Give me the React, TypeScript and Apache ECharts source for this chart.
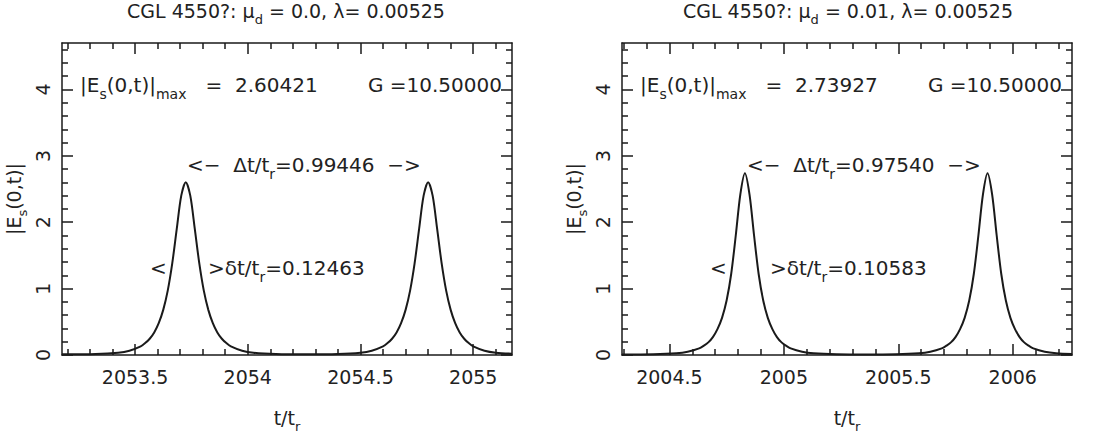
import React, { useEffect, useRef } from 'react';
import * as echarts from 'echarts';

// ---------- data ----------
const leftT = [
  2053.176, 2053.325, 2053.425, 2053.475, 2053.525, 2053.545, 2053.565, 2053.585, 2053.605,
  2053.625, 2053.645, 2053.665, 2053.685, 2053.705, 2053.725, 2053.745, 2053.765, 2053.785,
  2053.805, 2053.825, 2053.845, 2053.865, 2053.885, 2053.905, 2053.925, 2053.975, 2054.025,
  2054.125, 2054.26, 2054.40, 2054.50, 2054.55, 2054.60, 2054.62, 2054.64, 2054.66, 2054.68,
  2054.70, 2054.72, 2054.74, 2054.76, 2054.78, 2054.80, 2054.82, 2054.84, 2054.86, 2054.88,
  2054.90, 2054.92, 2054.94, 2054.96, 2054.98, 2055.00, 2055.05, 2055.10, 2055.172,
];
const leftE = [
  0.01, 0.015, 0.035, 0.065, 0.13, 0.18, 0.245, 0.34, 0.48,
  0.68, 0.97, 1.38, 1.90, 2.40, 2.604, 2.40, 1.90, 1.38,
  0.97, 0.68, 0.48, 0.34, 0.245, 0.18, 0.13, 0.065, 0.035,
  0.015, 0.01, 0.015, 0.035, 0.065, 0.13, 0.18, 0.245, 0.34, 0.48,
  0.68, 0.97, 1.38, 1.90, 2.40, 2.604, 2.40, 1.90, 1.38, 0.97,
  0.68, 0.48, 0.34, 0.245, 0.18, 0.13, 0.065, 0.035, 0.02,
];

const rightT = [
  2004.293, 2004.43, 2004.53, 2004.58, 2004.63, 2004.65, 2004.67, 2004.69, 2004.71,
  2004.73, 2004.75, 2004.77, 2004.79, 2004.81, 2004.83, 2004.85, 2004.87, 2004.89,
  2004.91, 2004.93, 2004.95, 2004.97, 2004.99, 2005.01, 2005.03, 2005.08, 2005.13,
  2005.23, 2005.36, 2005.49, 2005.59, 2005.64, 2005.69, 2005.71, 2005.73, 2005.75, 2005.77,
  2005.79, 2005.81, 2005.83, 2005.85, 2005.87, 2005.89, 2005.91, 2005.93, 2005.95, 2005.97,
  2005.99, 2006.01, 2006.03, 2006.05, 2006.07, 2006.09, 2006.14, 2006.19, 2006.259,
];
const rightE = [
  0.008, 0.012, 0.027, 0.05, 0.10, 0.14, 0.19, 0.27, 0.39,
  0.56, 0.82, 1.22, 1.80, 2.42, 2.739, 2.42, 1.80, 1.22,
  0.82, 0.56, 0.39, 0.27, 0.19, 0.14, 0.10, 0.05, 0.027,
  0.012, 0.008, 0.012, 0.027, 0.05, 0.10, 0.14, 0.19, 0.27, 0.39,
  0.56, 0.82, 1.22, 1.80, 2.42, 2.739, 2.42, 1.80, 1.22, 0.82,
  0.56, 0.39, 0.27, 0.19, 0.14, 0.10, 0.05, 0.027, 0.015,
];

const leftMajorX = [2053.5, 2054, 2054.5, 2055];
const leftMinorX = [
  2053.2, 2053.3, 2053.4, 2053.6, 2053.7, 2053.8, 2053.9, 2054.1, 2054.2, 2054.3, 2054.4,
  2054.6, 2054.7, 2054.8, 2054.9, 2055.1,
];
const rightMajorX = [2004.5, 2005, 2005.5, 2006];
const rightMinorX = [
  2004.3, 2004.4, 2004.6, 2004.7, 2004.8, 2004.9, 2005.1, 2005.2, 2005.3, 2005.4,
  2005.6, 2005.7, 2005.8, 2005.9, 2006.1, 2006.2,
];
const yMajor = [0, 1, 2, 3, 4];
const yMinor = [
  0.2, 0.4, 0.6, 0.8, 1.2, 1.4, 1.6, 1.8, 2.2, 2.4, 2.6, 2.8, 3.2, 3.4, 3.6, 3.8, 4.2, 4.4, 4.6,
];

const leftTitle = '{n|CGL 4550?: μ}{s|d}{n| = 0.0, λ= 0.00525}';
const rightTitle = '{n|CGL 4550?: μ}{s|d}{n| = 0.01, λ= 0.00525}';
const leftMax = '2.60421';
const rightMax = '2.73927';
const gValue = '10.50000';
const leftDelta = '0.99446';
const rightDelta = '0.97540';
const leftWidth = '0.12463';
const rightWidth = '0.10583';

// ---------- styling ----------
const FONT = 'DejaVu Sans';
const INK = '#1a1a1a';
const TXT = '#222';

const richG = {
  n: { fontFamily: FONT, fontSize: 19, lineHeight: 30, fill: TXT, color: TXT },
  s: { fontFamily: FONT, fontSize: 13, lineHeight: 13, verticalAlign: 'bottom', fill: TXT, color: TXT },
};
const richP = {
  n: { fontFamily: FONT, fontSize: 20, lineHeight: 31, fill: TXT, color: TXT },
  s: { fontFamily: FONT, fontSize: 14, lineHeight: 14, verticalAlign: 'bottom', fill: TXT, color: TXT },
};

function makeAxes(g: number, xmin: number, xmax: number, xMajor: number[], xMinor: number[]) {
  const line = { color: INK, width: 1.5 };
  const xAxes = [
    {
      gridIndex: g, type: 'value', position: 'bottom', min: xmin, max: xmax,
      axisLine: { show: true, onZero: false, lineStyle: line },
      axisTick: { show: true, inside: true, length: 11, customValues: xMajor, lineStyle: line },
      axisLabel: {
        show: true, customValues: xMajor, margin: 12, fontFamily: FONT, fontSize: 19, color: TXT,
        formatter: (v: number) => String(v),
      },
      splitLine: { show: false },
      name: '{n|t/t}{s|r}', nameLocation: 'middle', nameGap: 48,
      nameTextStyle: { rich: richG },
    },
    {
      gridIndex: g, type: 'value', position: 'bottom', min: xmin, max: xmax,
      axisLine: { show: false, onZero: false },
      axisTick: { show: true, inside: true, length: 6, customValues: xMinor, lineStyle: line },
      axisLabel: { show: false }, splitLine: { show: false },
    },
    {
      gridIndex: g, type: 'value', position: 'top', min: xmin, max: xmax,
      axisLine: { show: true, onZero: false, lineStyle: line },
      axisTick: { show: true, inside: true, length: 11, customValues: xMajor, lineStyle: line },
      axisLabel: { show: false }, splitLine: { show: false },
    },
    {
      gridIndex: g, type: 'value', position: 'top', min: xmin, max: xmax,
      axisLine: { show: false, onZero: false },
      axisTick: { show: true, inside: true, length: 6, customValues: xMinor, lineStyle: line },
      axisLabel: { show: false }, splitLine: { show: false },
    },
  ];
  const yAxes = [
    {
      gridIndex: g, type: 'value', position: 'left', min: 0, max: 4.7,
      axisLine: { show: true, onZero: false, lineStyle: line },
      axisTick: { show: true, inside: true, length: 11, customValues: yMajor, lineStyle: line },
      axisLabel: {
        show: true, customValues: yMajor, rotate: 90, margin: 10, fontFamily: FONT, fontSize: 19, color: TXT,
      },
      splitLine: { show: false },
      name: '{n||E}{s|s}{n|(0,t)|}', nameLocation: 'middle', nameGap: 33, nameRotate: 90,
      nameTextStyle: { rich: richG },
    },
    {
      gridIndex: g, type: 'value', position: 'left', min: 0, max: 4.7,
      axisLine: { show: false, onZero: false },
      axisTick: { show: true, inside: true, length: 6, customValues: yMinor, lineStyle: line },
      axisLabel: { show: false }, splitLine: { show: false },
    },
    {
      gridIndex: g, type: 'value', position: 'right', min: 0, max: 4.7,
      axisLine: { show: true, onZero: false, lineStyle: line },
      axisTick: { show: true, inside: true, length: 11, customValues: yMajor, lineStyle: line },
      axisLabel: { show: false }, splitLine: { show: false },
    },
    {
      gridIndex: g, type: 'value', position: 'right', min: 0, max: 4.7,
      axisLine: { show: false, onZero: false },
      axisTick: { show: true, inside: true, length: 6, customValues: yMinor, lineStyle: line },
      axisLabel: { show: false }, splitLine: { show: false },
    },
  ];
  return { xAxes, yAxes };
}

function txt(x: number, y: number, text: string, align = 'left', rich: any = richP) {
  return {
    type: 'text', x, y, silent: true,
    style: {
      text, rich, fill: TXT, align, verticalAlign: 'middle',
      fontFamily: FONT, fontSize: 20,
    },
  };
}

export default function App() {
  const ref = useRef<HTMLDivElement>(null);
  useEffect(() => {
    if (!ref.current) return;
    const chart = echarts.init(ref.current, null, { renderer: 'svg' });
    const L = makeAxes(0, 2053.176, 2055.172, leftMajorX, leftMinorX);
    const R = makeAxes(1, 2004.293, 2006.259, rightMajorX, rightMinorX);
    const lineStyle = { color: INK, width: 2 };
    chart.setOption({
      animation: false,
      backgroundColor: '#ffffff',
      grid: [
        { left: 62, top: 43, width: 450, height: 313 },
        { left: 622, top: 43, width: 450, height: 313 },
      ],
      xAxis: [...L.xAxes, ...R.xAxes],
      yAxis: [...L.yAxes, ...R.yAxes],
      series: [
        {
          type: 'line', xAxisIndex: 0, yAxisIndex: 0, showSymbol: false, smooth: 0.3,
          lineStyle, data: leftT.map((t, i) => [t, leftE[i]]),
        },
        {
          type: 'line', xAxisIndex: 4, yAxisIndex: 4, showSymbol: false, smooth: 0.3,
          lineStyle, data: rightT.map((t, i) => [t, rightE[i]]),
        },
      ],
      graphic: [
        txt(286, 11, leftTitle, 'center', richG),
        txt(848, 11, rightTitle, 'center', richG),
        txt(80, 85, `{n||E}{s|s}{n|(0,t)|}{s|max}{n|   =  ${leftMax}}`),
        txt(502, 85, `{n|G =${gValue}}`, 'right'),
        txt(187, 165, `{n|<−  Δt/t}{s|r}{n|=${leftDelta}  −>}`),
        txt(150, 268, '{n|<}'),
        txt(208, 268, `{n|>δt/t}{s|r}{n|=${leftWidth}}`),
        txt(640, 85, `{n||E}{s|s}{n|(0,t)|}{s|max}{n|   =  ${rightMax}}`),
        txt(1062, 85, `{n|G =${gValue}}`, 'right'),
        txt(747, 165, `{n|<−  Δt/t}{s|r}{n|=${rightDelta}  −>}`),
        txt(710, 268, '{n|<}'),
        txt(770, 268, `{n|>δt/t}{s|r}{n|=${rightWidth}}`),
      ],
    });
    return () => chart.dispose();
  }, []);
  return (
    <div
      ref={ref}
      style={{ position: 'fixed', left: 0, top: 0, width: 1120, height: 438, background: '#fff' }}
    />
  );
}
